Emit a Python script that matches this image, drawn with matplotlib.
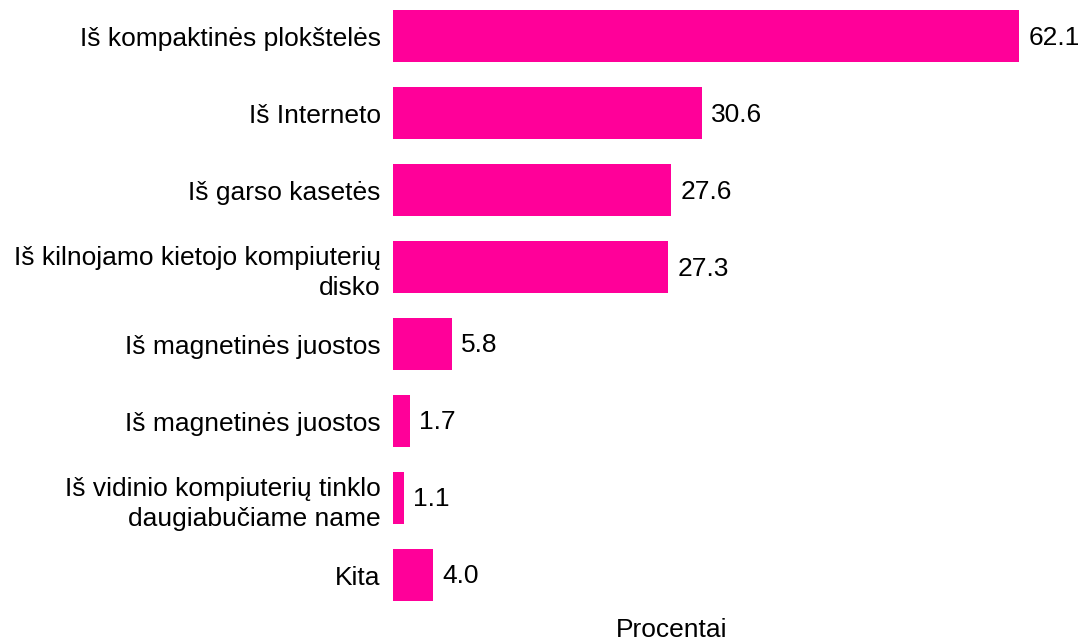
import matplotlib.pyplot as plt

plt.rcParams['font.family'] = ['Liberation Sans', 'DejaVu Sans']

categories = [
    'Iš kompaktinės plokštelės',
    'Iš Interneto',
    'Iš garso kasetės',
    'Iš kilnojamo kietojo kompiuterių\ndisko',
    'Iš magnetinės juostos',
    'Iš magnetinės juostos',
    'Iš vidinio kompiuterių tinklo\ndaugiabučiame name',
    'Kita',
]
values = [62.1, 30.6, 27.6, 27.3, 5.8, 1.7, 1.1, 4.0]
value_labels = ['62.1', '30.6', '27.6', '27.3', '5.8', '1.7', '1.1', '4.0']

fig = plt.figure(figsize=(10.8, 6.43), dpi=100)
ax = fig.add_axes([0.3639, 0.0459, 0.635, 0.954])

pos = list(range(len(categories)))
ax.barh(pos, values, height=0.675, color='#FF0099')
for p, v, lab in zip(pos, values, value_labels):
    ax.annotate(lab, (v, p), xytext=(6.5, -1), textcoords='offset points',
                va='center', ha='left', fontsize=19)

ax.set_yticks(pos)
ax.set_yticklabels(categories, fontsize=19, ha='right', linespacing=1.32)
ax.set_ylim(7.5, -0.47)
ax.set_xlim(0, 68)
ax.set_xticks([])
ax.tick_params(axis='y', length=0, pad=9)
for s in ax.spines.values():
    s.set_visible(False)

fig.text(0.622, 0.02, 'Procentai', ha='center', va='center', fontsize=19)

fig.savefig('out.png', dpi=100)
